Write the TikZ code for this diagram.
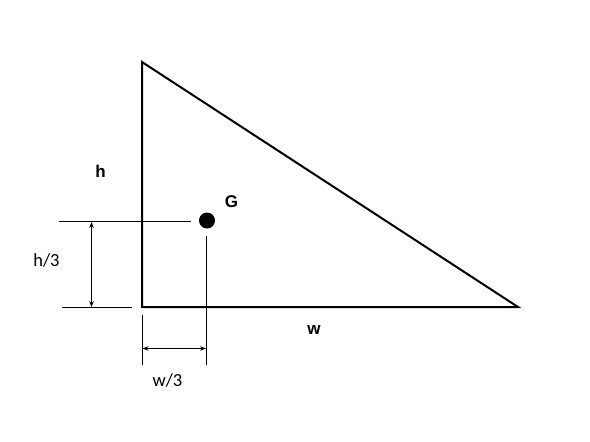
\documentclass[tikz,border=0pt]{standalone}
\usepackage{fontspec}
\setmainfont{Carlito}
\newfontfamily\boldlab{Liberation Sans}
\usetikzlibrary{arrows.meta}
\tikzset{
  tri/.style={draw=black, line width=2pt, line join=miter},
  dimline/.style={draw=black, line width=1pt},
  dimarrow/.style={draw=black, line width=1pt, {Stealth[length=6pt,width=4.5pt]}-{Stealth[length=6pt,width=4.5pt]}},
  lab/.style={font=\fontsize{18.5}{20}\selectfont, inner sep=0pt},
  blab/.style={font=\boldlab\bfseries\fontsize{17}{19}\selectfont, inner sep=0pt},
}
\begin{document}
\begin{tikzpicture}[x=1pt,y=-1pt]
\useasboundingbox (0,0) rectangle (590,442);
% triangle
\coordinate (A) at (142,62);
\coordinate (B) at (142,307);
\coordinate (C) at (518,307);
\draw[tri] (A) -- (B) -- (C) -- cycle;
% centroid
\node[circle, fill=black, minimum size=16pt, inner sep=0pt] (G) at (207,220.5) {};
% extension lines
\coordinate (e1a) at (59,221.5);
\coordinate (e1b) at (191,221.5);
\coordinate (e2a) at (62,307.5);
\coordinate (e2b) at (132,307.5);
\coordinate (e3a) at (142,315);
\coordinate (e3b) at (142,365);
\coordinate (e4a) at (206.5,236);
\coordinate (e4b) at (206.5,365);
\draw[dimline] (e1a) -- (e1b);
\draw[dimline] (e2a) -- (e2b);
\draw[dimline] (e3a) -- (e3b);
\draw[dimline] (e4a) -- (e4b);
% dimension arrows
\coordinate (d1a) at (91.5,222);
\coordinate (d1b) at (91.5,307);
\coordinate (d2a) at (142.5,348.5);
\coordinate (d2b) at (206,348.5);
\draw[dimarrow] (d1a) -- (d1b);
\draw[dimarrow] (d2a) -- (d2b);
% labels
\node[blab] (lh) at (100.5,171) {h};
\node[blab] (lG) at (231.5,202) {G};
\node[blab] (lw) at (314,330) {w};
\node[lab] (lh3) at (46.5,260) {h/3};
\node[lab] (lw3) at (167.5,380) {w/3};
\end{tikzpicture}
\end{document}
